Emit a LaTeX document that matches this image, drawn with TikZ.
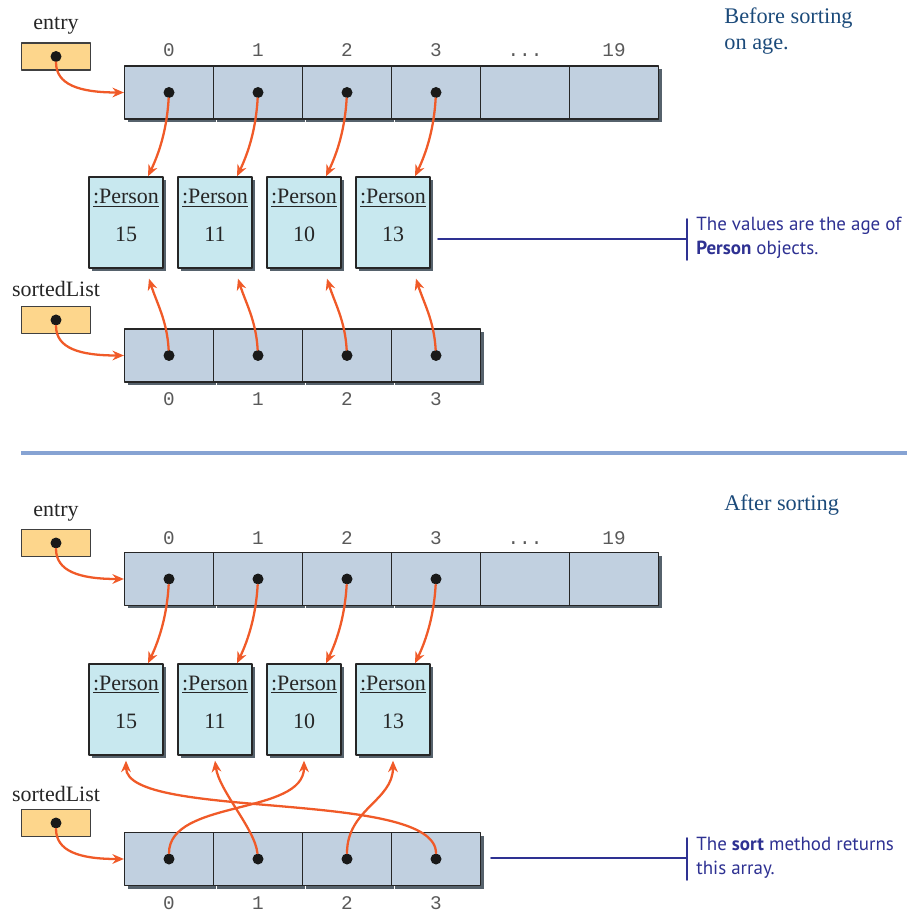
\documentclass[tikz,border=0pt]{standalone}
\usepackage{fontspec}
\setmainfont{Liberation Serif}
\setmonofont{Liberation Mono}
\newfontfamily\notefont{PT Sans}
\usetikzlibrary{arrows.meta,shadows}

\definecolor{cellblue}{HTML}{C1D0E0}
\definecolor{objcyan}{HTML}{C8E8EF}
\definecolor{refyellow}{HTML}{FDD68C}
\definecolor{ptrred}{HTML}{F05A28}
\definecolor{noteblue}{HTML}{2E3192}
\definecolor{headblue}{HTML}{1B4A7A}
\definecolor{rulecol}{HTML}{86A3D3}
\definecolor{shade}{HTML}{56626C}
\newcommand\skipdots{...}

\tikzset{
  boxshadow/.style={drop shadow={shadow xshift=0.06cm,shadow yshift=-0.06cm,fill=shade,opacity=1}},
  cell/.style={draw=black!85,line width=0.7pt,fill=cellblue,minimum width=1.78cm,minimum height=1.06cm,inner sep=0pt,boxshadow},
  person/.style={draw=black!85,line width=0.8pt,fill=objcyan,minimum width=1.48cm,minimum height=1.82cm,inner sep=0pt,boxshadow},
  refbox/.style={draw=black!75,line width=0.7pt,fill=refyellow,minimum width=1.38cm,minimum height=0.54cm,inner sep=0pt},
  dot/.style={circle,fill=black!90,inner sep=0pt,minimum size=0.22cm},
  label text/.style={anchor=base,inner sep=0pt,font=\fontsize{12.5}{15}\selectfont,text=black!85},
  idx/.style={anchor=base,inner sep=0pt,font=\fontsize{11}{13}\selectfont\ttfamily,text=black!65},
  ptr/.style={draw=ptrred,line width=1.3pt,-{Stealth[length=6.5pt,width=5.5pt]}},
  note/.style={anchor=west,align=left,inner sep=0pt,font=\notefont\fontsize{10.8}{13.6}\selectfont,text=noteblue},
  noteline/.style={draw=noteblue,line width=1pt},
  heading/.style={anchor=north west,align=left,inner sep=0pt,font=\fontsize{12.7}{14.8}\selectfont,text=headblue},
}

\begin{document}
\begin{tikzpicture}[x=0.02cm,y=-0.02cm,line cap=round,line join=round]
  \useasboundingbox (0,0) rectangle (907,911);

  % before sorting
  \node[heading] (h1) at (724,7) {Before sorting\\on age.};
  \node[label text] (en1) at (56,30) {entry};
  \node[refbox] (e1) at (56,56.5) {};
  \foreach \i/\l in {0/0,1/1,2/2,3/3,4/\skipdots,5/19} {
    \node[cell] (a\i) at ({169+89*\i},92.5) {};
    \node[idx] (ai\i) at ({169+89*\i},57) {\l};
  }
  \foreach \i/\v in {0/15,1/11,2/10,3/13} {
    \node[person] (p\i) at ({126+89*\i},222.5) {};
    \node[label text] (pt\i) at ({126+89*\i},204) {\underline{:Person}};
    \node[label text] (pv\i) at ({126+89*\i},242) {\v};
  }
  \node[label text] (sn1) at (56,297) {sortedList};
  \node[refbox] (r1) at (56,320) {};
  \foreach \i in {0,1,2,3} {
    \node[cell] (s\i) at ({169+89*\i},355.5) {};
    \node[idx] (si\i) at ({169+89*\i},405) {\i};
  }
  \node[dot] (ed1) at (e1) {};
  \node[dot] (rd1) at (r1) {};
  \foreach \i in {0,1,2,3} {
    \node[dot] (ad\i) at (a\i) {};
    \node[dot] (sd\i) at (s\i) {};
    \draw[ptr] (ad\i) .. controls +(-2,35) and +(12,-25) .. ([xshift=0.44cm]p\i.north);
    \draw[ptr] (sd\i) .. controls +(-2,-35) and +(8,25) .. ([xshift=0.46cm,yshift=-0.2cm]p\i.south);
  }
  \draw[ptr] (ed1) .. controls +(0,28) and +(-45,0) .. (a0.west);
  \draw[ptr] (rd1) .. controls +(0,28) and +(-45,0) .. (s0.west);

  \node[note] (m1) at (696,238) {The values are the age of\\\textbf{Person} objects.};
  \coordinate (k1) at (438,239);
  \draw[noteline] (k1) -- (687,239) (687,219) -- (687,260);

  \draw[rulecol,line width=2.8pt,line cap=butt] (21,453) -- (907,453);

  % after sorting
  \node[heading] (h2) at (724,494) {After sorting};
  \node[label text] (en2) at (56,516) {entry};
  \node[refbox] (e2) at (56,543) {};
  \foreach \i/\l in {0/0,1/1,2/2,3/3,4/\skipdots,5/19} {
    \node[cell] (b\i) at ({169+89*\i},579) {};
    \node[idx] (bi\i) at ({169+89*\i},544) {\l};
  }
  \foreach \i/\v in {0/15,1/11,2/10,3/13} {
    \node[person] (q\i) at ({126+89*\i},709.5) {};
    \node[label text] (qt\i) at ({126+89*\i},690) {\underline{:Person}};
    \node[label text] (qv\i) at ({126+89*\i},728) {\v};
  }
  \node[label text] (sn2) at (56,801) {sortedList};
  \node[refbox] (r2) at (56,823) {};
  \foreach \i in {0,1,2,3} {
    \node[cell] (t\i) at ({169+89*\i},859) {};
    \node[idx] (ti\i) at ({169+89*\i},909) {\i};
  }
  \node[dot] (ed2) at (e2) {};
  \node[dot] (rd2) at (r2) {};
  \foreach \i in {0,1,2,3} {
    \node[dot] (bd\i) at (b\i) {};
    \node[dot] (td\i) at (t\i) {};
    \draw[ptr] (bd\i) .. controls +(-2,35) and +(12,-25) .. ([xshift=0.44cm]q\i.north);
  }
  \draw[ptr] (ed2) .. controls +(0,28) and +(-45,0) .. (b0.west);
  \draw[ptr] (rd2) .. controls +(0,28) and +(-45,0) .. (t0.west);
  \draw[ptr] (td0) .. controls +(0,-60) and +(0,55) .. ([yshift=-0.1cm]q2.south);
  \draw[ptr] (td1) .. controls +(-3,-30) and +(4,30) .. ([yshift=-0.1cm]q1.south);
  \draw[ptr] (td2) .. controls +(0,-50) and +(0,40) .. ([yshift=-0.1cm]q3.south);
  \draw[ptr] (td3) .. controls +(0,-70) and +(0,60) .. ([yshift=-0.1cm]q0.south);

  \node[note] (m2) at (696,858) {The \textbf{sort} method returns\\this array.};
  \coordinate (k2) at (491,858);
  \draw[noteline] (k2) -- (687,858) (687,838) -- (687,880);
\end{tikzpicture}
\end{document}
